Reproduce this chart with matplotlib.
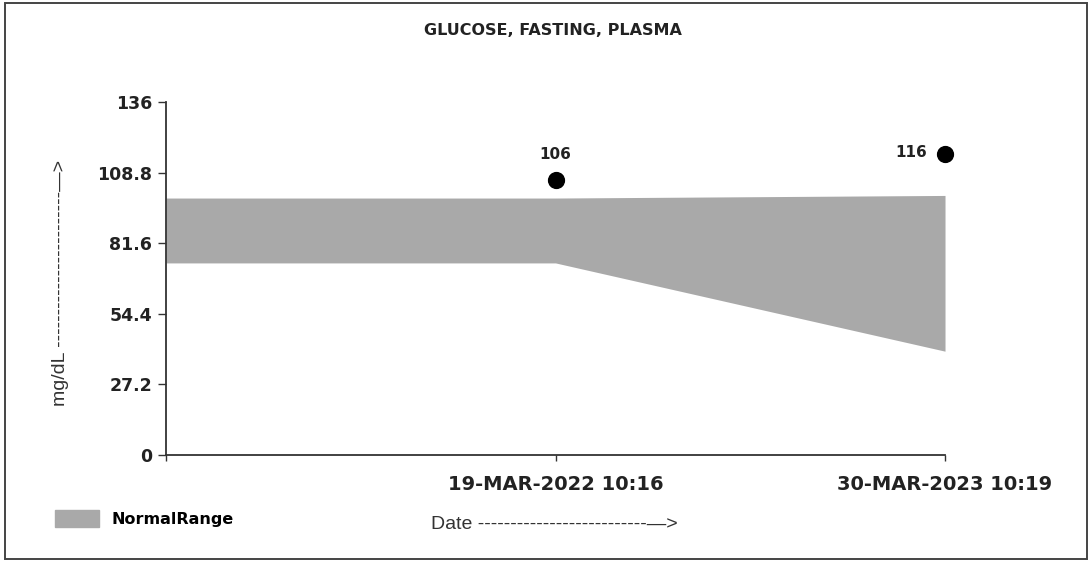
import matplotlib.pyplot as plt
from matplotlib.patches import Patch, Rectangle

# data
x_pos = [0, 1, 2]
range_low = [74, 74, 40]
range_high = [99, 99, 100]
point_x = [1, 2]
point_vals = [106, 116]
tick_labels = ["", "19-MAR-2022 10:16", "30-MAR-2023 10:19"]
y_ticks = [0, 27.2, 54.4, 81.6, 108.8, 136]
y_tick_labels = ["0", "27.2", "54.4", "81.6", "108.8", "136"]

fig = plt.figure(figsize=(10.92, 5.62), dpi=100)
ax = fig.add_axes([0.152, 0.1904, 0.7134, 0.6281])

# outer frame
fig.patches.append(Rectangle((0.005, 0.006), 0.99, 0.988, transform=fig.transFigure,
                             fill=False, edgecolor="#444444", linewidth=1.4))

ax.fill_between(x_pos, range_low, range_high, color="#a9a9a9", linewidth=0)
ax.scatter(point_x, point_vals, color="black", s=130, zorder=3, clip_on=False)

bold = dict(family="DejaVu Sans", fontweight="bold", color="#222222")
ax.annotate(str(point_vals[0]), (point_x[0], point_vals[0]), xytext=(0, 15),
            textcoords="offset points", ha="center", va="baseline", fontsize=11, **bold)
ax.annotate(str(point_vals[1]), (point_x[1], point_vals[1]), xytext=(-13, 1),
            textcoords="offset points", ha="right", va="center", fontsize=11, **bold)

ax.set_xlim(0, 2)
ax.set_ylim(0, 136)
ax.set_xticks(x_pos)
ax.set_xticklabels(tick_labels, fontsize=14, **bold)
ax.set_yticks(y_ticks)
ax.set_yticklabels(y_tick_labels, fontsize=12.5, **bold)
ax.tick_params(axis="y", length=6, width=1, color="#333333", pad=4)
ax.tick_params(axis="x", length=4.5, width=1, color="#333333", pad=10)
for s in ["top", "right"]:
    ax.spines[s].set_visible(False)
for s in ["left", "bottom"]:
    ax.spines[s].set_color("#333333")
    ax.spines[s].set_linewidth(1.3)

fig.text(0.506, 0.945, "GLUCOSE, FASTING, PLASMA", ha="center", va="center",
         fontsize=11.5, **bold)
fig.text(0.055, 0.496, "mg/dL " + "-" * 24 + "\u2014>", rotation=90, ha="center", va="center",
         fontsize=14, family="Liberation Sans", color="#333333")
fig.text(0.395, 0.066, "Date " + "-" * 26 + "\u2014>", ha="left", va="center",
         fontsize=14, family="Liberation Sans", color="#333333")

fig.legend(handles=[Patch(color="#a9a9a9", label="NormalRange")],
           loc="center left", bbox_to_anchor=(0.050, 0.077), frameon=False,
           handlelength=2.8, handleheight=1.3, handletextpad=0.75, borderpad=0, borderaxespad=0,
           prop=dict(family="DejaVu Sans", weight="bold", size=11.5))

plt.savefig("out.png", dpi=100)
